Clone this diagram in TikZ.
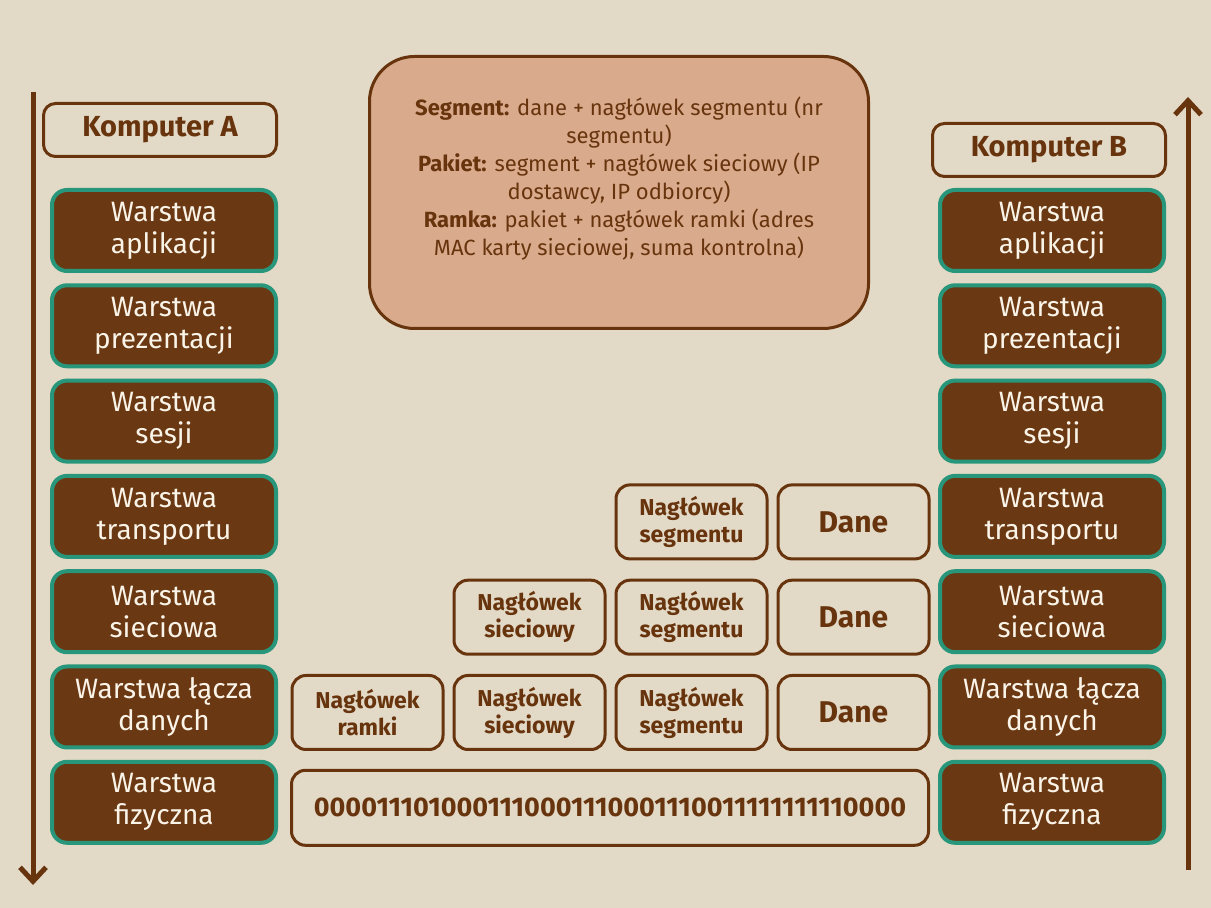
\documentclass[tikz,border=0pt]{standalone}
\usepackage{fontspec}
\setmainfont{Fira Sans}
\usepackage{tikz}
\usetikzlibrary{positioning, arrows.meta}
\definecolor{canvas}{RGB}{226,217,198}
\definecolor{bark}{RGB}{104,52,14}
\definecolor{layerfill}{RGB}{106,56,18}
\definecolor{layeredge}{RGB}{40,150,122}
\definecolor{infofill}{RGB}{217,171,140}
\definecolor{layertext}{RGB}{250,244,232}
\tikzstyle{layer} = [rectangle, rounded corners=15pt, minimum width=224pt, minimum height=81pt, inner sep=0pt, align=center, draw=layeredge, line width=4pt, fill=layerfill, text=layertext, font=\fontsize{28}{32}\selectfont]
\tikzstyle{host} = [rectangle, rounded corners=12pt, minimum width=233pt, minimum height=53pt, inner sep=0pt, draw=bark, line width=3pt, text=bark, font=\fontsize{29}{30}\selectfont\bfseries]
\tikzstyle{databox} = [rectangle, rounded corners=14pt, minimum width=151pt, minimum height=74pt, inner sep=0pt, align=center, draw=bark, line width=3pt, text=bark, font=\fontsize{23}{27}\selectfont\bfseries]
\tikzstyle{infobox} = [rectangle, rounded corners=45pt, minimum width=499pt, minimum height=272pt, draw=bark, line width=3pt, fill=infofill]
\tikzstyle{infotext} = [align=center, text=bark, inner sep=0pt, font=\fontsize{22}{28}\selectfont]
\tikzstyle{flow} = [line width=5pt, draw=bark, -{Straight Barb[length=14pt, width=26pt, line width=5pt]}]

\begin{document}
\begin{tikzpicture}[x=1pt, y=1pt, node distance=95.3pt]

% Background
\fill [canvas] (0,0) rectangle (1211,908);

% Computer A
\node (appA) [layer] at (164,677.5) {Warstwa\\aplikacji};
\node (presA) [layer, below of=appA] {Warstwa\\prezentacji};
\node (sesA) [layer, below of=presA] {Warstwa\\sesji};
\node (transA) [layer, below of=sesA] {Warstwa\\transportu};
\node (netA) [layer, below of=transA] {Warstwa\\sieciowa};
\node (linkA) [layer, below of=netA] {Warstwa łącza\\danych};
\node (physA) [layer, below of=linkA] {Warstwa\\fizyczna};
\node (kompA) [host, above of=appA, node distance=100.5pt, xshift=-4pt] {Komputer A};

% Computer B
\node (appB) [layer, right of=appA, node distance=888pt] {Warstwa\\aplikacji};
\node (presB) [layer, below of=appB] {Warstwa\\prezentacji};
\node (sesB) [layer, below of=presB] {Warstwa\\sesji};
\node (transB) [layer, below of=sesB] {Warstwa\\transportu};
\node (netB) [layer, below of=transB] {Warstwa\\sieciowa};
\node (linkB) [layer, below of=netB] {Warstwa łącza\\danych};
\node (physB) [layer, below of=linkB] {Warstwa\\fizyczna};
\node (kompB) [host, above of=appB, node distance=80.5pt, xshift=-3pt] {Komputer B};

% Encapsulation legend
\node (info) [infobox] at (619,715.5) {};
\node (infotxt) [infotext] at ([yshift=14pt]info.center) {\textbf{Segment:} dane + nagłówek segmentu (nr\\segmentu)\\\textbf{Pakiet:} segment + nagłówek sieciowy (IP\\dostawcy, IP odbiorcy)\\\textbf{Ramka:} pakiet + nagłówek ramki (adres\\MAC karty sieciowej, suma kontrolna)};

% Data units
\node (tdane) [databox, left of=transB, node distance=198.5pt, yshift=-5.5pt, font=\fontsize{30}{30}\selectfont\bfseries] {Dane};
\node (tseg) [databox, left of=tdane, node distance=162pt] {Nagłówek\\segmentu};
\node (ndane) [databox, below of=tdane, font=\fontsize{30}{30}\selectfont\bfseries] {Dane};
\node (nseg) [databox, left of=ndane, node distance=162pt] {Nagłówek\\segmentu};
\node (nhdr) [databox, left of=nseg, node distance=162pt] {Nagłówek\\sieciowy};
\node (ldane) [databox, below of=ndane, font=\fontsize{30}{30}\selectfont\bfseries] {Dane};
\node (lseg) [databox, left of=ldane, node distance=162pt] {Nagłówek\\segmentu};
\node (lhdr) [databox, left of=lseg, node distance=162pt] {Nagłówek\\sieciowy};
\node (lram) [databox, left of=lhdr, node distance=162pt] {Nagłówek\\ramki};
\node (bits) [databox, right of=physA, node distance=446pt, yshift=-5.5pt, minimum width=637pt, minimum height=75pt, font=\fontsize{27}{30}\selectfont\bfseries] {0000111010001110001110001110011111111110000};

% Direction of flow
\coordinate (downtop) at (33,816);
\coordinate (downend) at (33,23);
\coordinate (upbottom) at (1188,38);
\coordinate (uptop) at (1188,811);
\draw [flow] (downtop) -- (downend);
\draw [flow] (upbottom) -- (uptop);

\end{tikzpicture}
\end{document}
